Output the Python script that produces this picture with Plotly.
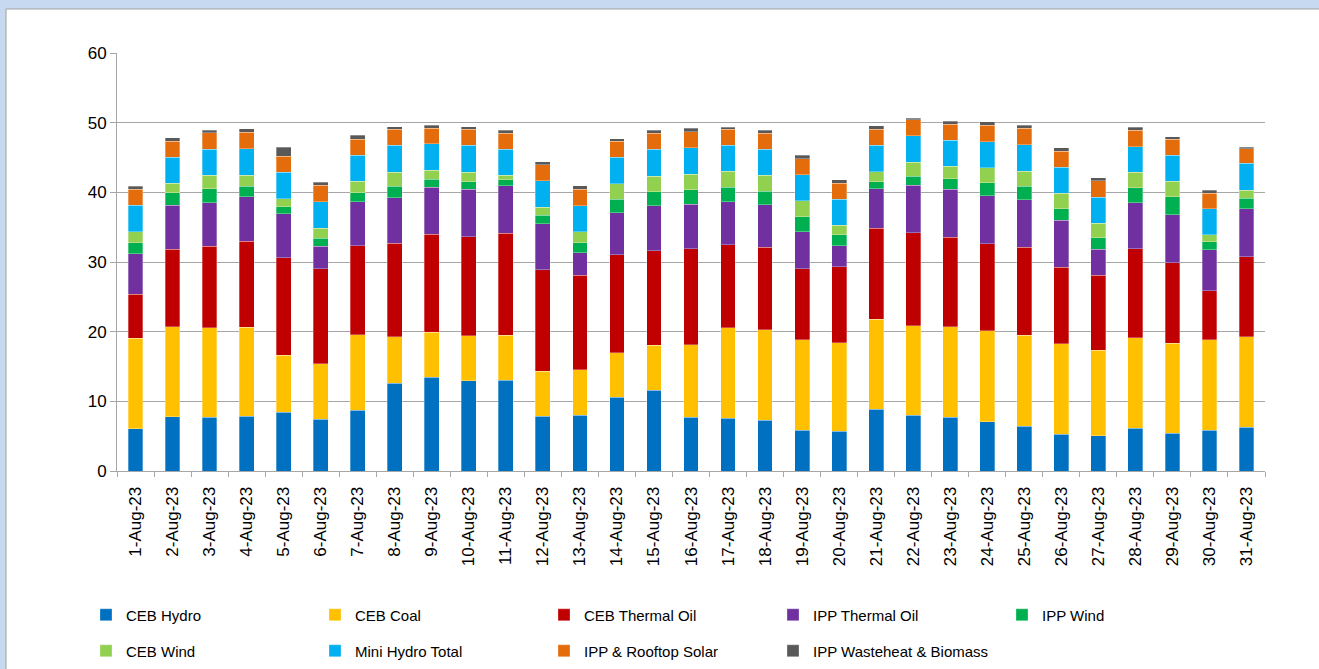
import plotly.graph_objects as go

dates = [f"{d}-Aug-23" for d in range(1, 32)]

ceb_hydro = [6.07, 7.79, 7.69, 7.84, 8.46, 7.45, 8.74, 12.57, 13.43, 12.95, 13.00, 7.84, 7.98, 10.56, 11.56, 7.69,
             7.55, 7.26, 5.88, 5.69, 8.84, 7.98, 7.69, 7.07, 6.45, 5.26, 5.06, 6.16, 5.40, 5.83, 6.26]
ceb_coal = [12.99, 12.95, 12.90, 12.80, 8.12, 7.93, 10.80, 6.68, 6.49, 6.50, 6.49, 6.45, 6.54, 6.45, 6.50, 10.42,
            12.99, 13.00, 12.99, 12.70, 12.95, 12.90, 13.00, 13.09, 13.04, 13.04, 12.28, 13.00, 12.95, 13.04, 12.99]
ceb_thermal_oil = [6.31, 11.08, 11.66, 12.33, 14.05, 13.67, 12.76, 13.43, 14.05, 14.19, 14.62, 14.62, 13.57, 14.05, 13.57, 13.81,
                   11.95, 11.85, 10.18, 10.95, 13.04, 13.33, 12.85, 12.47, 12.62, 10.94, 10.75, 12.76, 11.56, 7.03, 11.52]
ipp_thermal_oil = [5.83, 6.35, 6.26, 6.40, 6.30, 3.20, 6.35, 6.55, 6.79, 6.78, 6.84, 6.59, 3.25, 6.02, 6.45, 6.40,
                   6.16, 6.11, 5.30, 3.01, 5.69, 6.78, 6.88, 6.88, 6.83, 6.74, 3.73, 6.59, 6.88, 5.87, 6.88]
ipp_wind = [1.58, 1.77, 2.01, 1.53, 1.01, 1.15, 1.29, 1.67, 1.14, 1.10, 0.86, 1.24, 1.39, 1.96, 2.01, 2.05,
            2.11, 1.96, 2.15, 1.53, 1.00, 1.34, 1.53, 1.87, 1.96, 1.67, 1.67, 2.15, 2.58, 1.15, 1.53]
ceb_wind = [1.53, 1.39, 1.96, 1.58, 1.14, 1.48, 1.68, 2.00, 1.29, 1.38, 0.67, 1.15, 1.62, 2.19, 2.24, 2.25,
            2.24, 2.25, 2.30, 1.38, 1.43, 1.96, 1.82, 2.15, 2.15, 2.20, 2.06, 2.20, 2.25, 0.96, 1.15]
mini_hydro = [3.82, 3.73, 3.72, 3.77, 3.78, 3.77, 3.67, 3.83, 3.78, 3.83, 3.67, 3.77, 3.73, 3.78, 3.82, 3.77,
              3.78, 3.72, 3.72, 3.78, 3.78, 3.82, 3.72, 3.72, 3.77, 3.72, 3.77, 3.68, 3.67, 3.77, 3.82]
ipp_solar = [2.29, 2.29, 2.34, 2.39, 2.29, 2.34, 2.35, 2.29, 2.24, 2.29, 2.35, 2.30, 2.39, 2.29, 2.30, 2.34,
             2.29, 2.30, 2.30, 2.29, 2.34, 2.30, 2.25, 2.39, 2.39, 2.35, 2.34, 2.39, 2.35, 2.24, 2.10]
ipp_waste = [0.43, 0.52, 0.39, 0.48, 1.29, 0.48, 0.52, 0.43, 0.43, 0.43, 0.38, 0.43, 0.48, 0.38, 0.48, 0.48,
             0.29, 0.48, 0.47, 0.48, 0.48, 0.24, 0.47, 0.48, 0.43, 0.47, 0.43, 0.43, 0.33, 0.39, 0.24]

series = [
    ("CEB Hydro", ceb_hydro, "#0070C0"),
    ("CEB Coal", ceb_coal, "#FFC000"),
    ("CEB Thermal Oil", ceb_thermal_oil, "#C00000"),
    ("IPP Thermal Oil", ipp_thermal_oil, "#7030A0"),
    ("IPP Wind", ipp_wind, "#00B050"),
    ("CEB Wind", ceb_wind, "#92D050"),
    ("Mini Hydro Total", mini_hydro, "#00B0F0"),
    ("IPP & Rooftop Solar", ipp_solar, "#E46C0A"),
    ("IPP Wasteheat & Biomass", ipp_waste, "#595959"),
]

fig = go.Figure()
for i, (name, vals, color) in enumerate(series):
    fig.add_trace(go.Bar(
        x=dates, y=vals, name=name,
        legend="legend" if i < 5 else "legend2",
        marker=dict(color=color, line=dict(color="rgba(255,255,255,0.6)", width=0.5)),
    ))

GRID = "#A6A6A6"
FONT = "Liberation Sans"
PLOT_L, PLOT_R, PLOT_T, PLOT_B = 117, 1265, 53, 471
PW, PH = PLOT_R - PLOT_L, PLOT_B - PLOT_T

leg_common = dict(
    orientation="h", xanchor="left", yanchor="middle",
    entrywidth=184, entrywidthmode="pixels",
    font=dict(size=15, family=FONT), itemwidth=30,
    traceorder="normal", bgcolor="rgba(0,0,0,0)",
)

fig.update_layout(
    barmode="stack",
    bargap=0.6,
    width=1319, height=669,
    margin=dict(l=PLOT_L, r=1319 - PLOT_R, t=PLOT_T, b=669 - PLOT_B, autoexpand=False),
    paper_bgcolor="#C6D9F1",
    plot_bgcolor="white",
    font=dict(family=FONT, color="#000000", size=15),
    showlegend=True,
    legend=dict(x=(86 - PLOT_L) / PW, y=(PLOT_B - 615) / PH, **leg_common),
    legend2=dict(x=(86 - PLOT_L) / PW, y=(PLOT_B - 651) / PH, **leg_common),
    xaxis=dict(
        type="category", tickangle=-90, showline=True, linecolor=GRID, linewidth=1,
        ticks="outside", tickson="boundaries", ticklen=5, tickcolor=GRID,
        showgrid=False, tickfont=dict(size=17), ticklabelstandoff=8,
    ),
    yaxis=dict(
        range=[0, 60], dtick=10, showline=True, linecolor=GRID, linewidth=1,
        ticks="outside", ticklen=6, tickcolor=GRID,
        showgrid=True, gridcolor=GRID, gridwidth=1, zeroline=False,
        tickfont=dict(size=17),
    ),
    shapes=[dict(
        type="rect", xref="paper", yref="paper", layer="below",
        x0=(6 - PLOT_L) / PW, x1=1.2, y0=-0.7, y1=(PLOT_B - 9) / PH,
        fillcolor="white", line=dict(color="#A0A0A0", width=1),
    )],
)

fig.write_html(
    "out.html",
    config={"displayModeBar": False},
    post_script="document.body.style.margin='0';document.body.style.overflow='hidden';",
)
